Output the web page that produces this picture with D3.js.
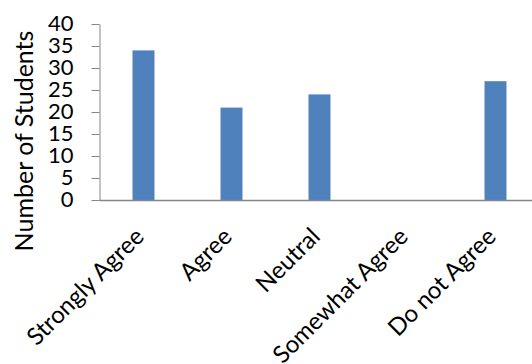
<!DOCTYPE html>
<html><head><meta charset="utf-8">
<script src="https://cdn.jsdelivr.net/npm/d3@7"></script>
<style>body{margin:0;background:#fff}svg{display:block}</style>
</head><body>
<script>
const categories = ["Strongly Agree","Agree","Neutral","Somewhat Agree","Do not Agree"];
const values = [34,21,24,0,27];
const yTicks = [0,5,10,15,20,25,30,35,40];
const yTitle = "Number of Students";

const W=532,H=364;
const svg=d3.select("body").append("svg").attr("width",W).attr("height",H);
const x=d3.scaleBand().domain(categories).range([99.5,539.5]).paddingInner(0.75).paddingOuter(0.375);
const y=d3.scaleLinear().domain([0,40]).range([200,24]);
const font="Lato, Carlito, Calibri, sans-serif";

svg.selectAll("rect.bar").data(values).join("rect").attr("class","bar")
  .attr("x",(d,i)=>x(categories[i])).attr("width",x.bandwidth())
  .attr("y",d=>y(d)).attr("height",d=>y(0)-y(d)).attr("fill","#4F81BD");

const ya=svg.append("g").attr("transform","translate(99.5,0)")
  .call(d3.axisLeft(y).tickValues(yTicks).tickSize(8).tickPadding(18).tickSizeOuter(0));
ya.select(".domain").attr("stroke","#868686");
ya.selectAll(".tick line").attr("stroke","#868686");
ya.selectAll(".tick text").attr("font-family",font).attr("font-size",22).attr("fill","#000").attr("dy","0.3em");

svg.append("line").attr("x1",99.5).attr("x2",W).attr("y1",200.5).attr("y2",200.5)
  .attr("stroke","#868686").attr("stroke-width",1.5);

svg.selectAll("text.xl").data(categories).join("text").attr("class","xl")
  .attr("text-anchor","end").attr("font-family",font).attr("font-size",24).attr("fill","#000")
  .attr("transform",d=>`translate(${x(d)+x.bandwidth()/2+2},${238}) rotate(-45)`)
  .text(d=>d);

svg.append("text").attr("font-family",font).attr("font-size",25).attr("fill","#000")
  .attr("text-anchor","middle")
  .attr("transform","translate(33,141) rotate(-90)").text(yTitle);
</script>
</body></html>
